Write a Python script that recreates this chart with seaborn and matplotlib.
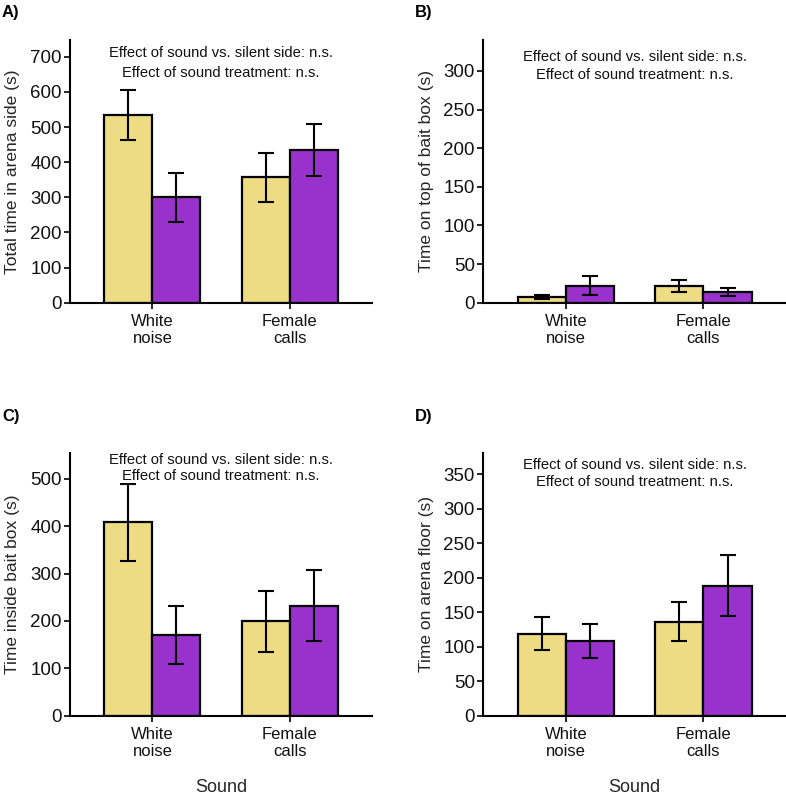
import matplotlib
matplotlib.use("Agg")
import matplotlib.pyplot as plt
import seaborn as sns
import pandas as pd
import numpy as np

sound = ["White\nnoise", "Female\ncalls"]
side = ["Sound side", "Silent side"]

# means and standard errors: [white noise sound, white noise silent, female sound, female silent]
a_mean = [534, 300, 357, 435]
a_se = [72, 69, 70, 74]
b_mean = [7, 22, 21.5, 14]
b_se = [2.7, 12, 8, 5]
c_mean = [408, 170, 199, 232]
c_se = [82, 61, 64, 75]
d_mean = [119, 108, 136, 188]
d_se = [23.5, 24.5, 28, 44]

ylabels = ["Total time in arena side (s)", "Time on top of bait box (s)",
           "Time inside bait box (s)", "Time on arena floor (s)"]
panel_tags = ["A)", "B)", "C)", "D)"]
yticks_list = [np.arange(0, 701, 100), np.arange(0, 301, 50),
               np.arange(0, 501, 100), np.arange(0, 351, 50)]
ylims = [748, 340, 554, 380]
annot1 = "Effect of sound vs. silent side: n.s."
annot2 = "Effect of sound treatment: n.s."
annot_y = [(0.949, 0.8755), (0.936, 0.866), (0.974, 0.913), (0.955, 0.891)]

sns.set_theme(style="white")
plt.rcParams['font.family'] = ['Liberation Sans', 'DejaVu Sans']

colors = ["#EDDC84", "#9932CC"]

fig = plt.figure(figsize=(7.86, 7.94), dpi=100)
W, H = 786, 794
boxes = [(70, 372, 40, 302.7), (483.3, 786, 40, 302.7),
         (70, 372, 453.3, 715.7), (483.3, 786, 453.3, 715.7)]

datasets = [(a_mean, a_se), (b_mean, b_se), (c_mean, c_se), (d_mean, d_se)]

for i, ((m, s), (l, r, t, b)) in enumerate(zip(datasets, boxes)):
    ax = fig.add_axes([l / W, (H - b) / H, (r - l) / W, (b - t) / H])
    df = pd.DataFrame({
        "Sound": [sound[0], sound[0], sound[1], sound[1]],
        "Side": [side[0], side[1], side[0], side[1]],
        "mean": m, "se": s,
    })
    sns.barplot(data=df, x="Sound", y="mean", hue="Side", hue_order=side,
                order=sound, palette=colors, width=0.7, gap=0, saturation=1,
                errorbar=None, legend=False, edgecolor="black",
                linewidth=1.6, ax=ax)
    patches = sorted(ax.patches, key=lambda p: p.get_x())
    for p in patches:
        xc = p.get_x() + p.get_width() / 2
        h = p.get_height()
        idx = int(np.argmin(np.abs(np.array(m) - h)))
        ax.errorbar(xc, h, yerr=s[idx], color="black", capsize=6,
                    elinewidth=1.5, capthick=1.5, zorder=5)
    ax.set_xlim(-0.6, 1.6)
    ax.set_ylim(0, ylims[i])
    ax.set_yticks(yticks_list[i])
    ax.set_ylabel(ylabels[i], fontsize=12.5, labelpad=7)
    if i >= 2:
        ax.set_xlabel("Sound", fontsize=13)
        ax.xaxis.set_label_coords(0.5, -(787 - b) / (b - t))
        ax.xaxis.label.set_va("center")
    else:
        ax.set_xlabel("")
    for sp in ["top", "right"]:
        ax.spines[sp].set_visible(False)
    for sp in ["left", "bottom"]:
        ax.spines[sp].set_color("black")
        ax.spines[sp].set_linewidth(1.5)
    ax.tick_params(axis="y", labelsize=13.5, length=4, width=1.2,
                   color="black", left=True, pad=2, labelcolor="#111111")
    ax.tick_params(axis="x", labelsize=12, length=4, width=1.2,
                   color="black", bottom=True, pad=4, labelcolor="#111111")
    for lab in ax.get_xticklabels():
        lab.set_linespacing(1.2)
    ax.text(0.5, annot_y[i][0], annot1, transform=ax.transAxes, ha="center",
            va="center", fontsize=10.6, color="#111111")
    ax.text(0.5, annot_y[i][1], annot2, transform=ax.transAxes, ha="center",
            va="center", fontsize=10.6, color="#111111")
    tx = 2 if i % 2 == 0 else 415
    ty = 12 if i < 2 else 416
    fig.text(tx / W, 1 - ty / H, panel_tags[i], fontsize=12,
             fontweight="bold", ha="left", va="center", color="black")

fig.savefig("out.png", dpi=100)
